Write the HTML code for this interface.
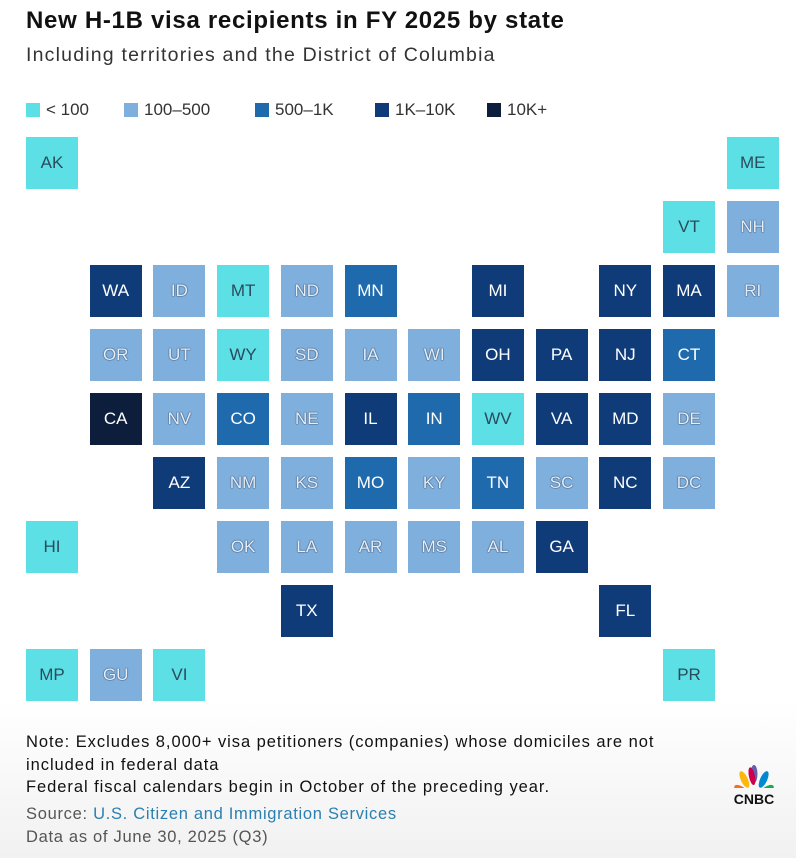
<!DOCTYPE html>
<html><head><meta charset="utf-8"><style>
body{margin:0;width:796px;height:858px;background:linear-gradient(#fff 0,#fff 700px,#f1f1f1 858px);font-family:"Liberation Sans",sans-serif;position:relative;overflow:hidden}
.t{position:absolute;white-space:nowrap}
.tile{position:absolute;width:52px;height:52px;display:flex;align-items:center;justify-content:center;font-size:17px}
.lg{position:absolute;top:100px;font-size:17px;color:#333;display:flex;align-items:center}
.lg i{display:inline-block;width:14px;height:14px;margin-right:6px}
</style></head><body>
<div class="t" style="left:26px;top:7px;font-size:24px;letter-spacing:0.7px;font-weight:bold;color:#111">New H-1B visa recipients in FY 2025 by state</div>
<div class="t" style="left:26px;top:44px;font-size:19.5px;letter-spacing:1.2px;color:#333">Including territories and the District of Columbia</div>
<div id="legend"></div>
<div id="map"></div>
<div class="t" style="left:26px;top:731px;font-size:16.5px;letter-spacing:0.95px;color:#111;line-height:22.5px">Note: Excludes 8,000+ visa petitioners (companies) whose domiciles are not<br>included in federal data<br>Federal fiscal calendars begin in October of the preceding year.</div>
<div class="t" style="left:26px;top:803px;font-size:16.5px;letter-spacing:0.7px;color:#555;line-height:23px">Source: <span style="color:#2a7fb0">U.S. Citizen and Immigration Services</span><br>Data as of June 30, 2025 (Q3)</div>
<div style="position:absolute;left:728px;top:764px;width:52px;text-align:center">
<svg width="40" height="24" viewBox="0 0 40 24"><g><ellipse cx="9" cy="15" rx="4" ry="9" fill="#f37021" transform="rotate(-55 20 22)"/><ellipse cx="14" cy="12" rx="3.5" ry="9" fill="#fcb711" transform="rotate(-25 20 22)"/><ellipse cx="20" cy="10" rx="3.5" ry="9" fill="#6460aa"/><ellipse cx="26" cy="12" rx="3.5" ry="9" fill="#0089d0" transform="rotate(25 20 22)"/><ellipse cx="31" cy="15" rx="4" ry="9" fill="#0db14b" transform="rotate(55 20 22)"/><ellipse cx="20" cy="12" rx="3" ry="9" fill="#cc004c" transform="rotate(-12 20 22)"/></g></svg>
<div style="font-weight:bold;font-size:14px;color:#111;margin-top:-2px">CNBC</div></div>
<script>
const catLabels=["< 100","100–500","500–1K","1K–10K","10K+"];
const catColors=["#5ce0e6","#7fafdc","#1f6aad","#0f3c79","#0c1e3b"];
const states=["AK","ME","VT","NH","WA","ID","MT","ND","MN","MI","NY","MA","RI","OR","UT","WY","SD","IA","WI","OH","PA","NJ","CT","CA","NV","CO","NE","IL","IN","WV","VA","MD","DE","AZ","NM","KS","MO","KY","TN","SC","NC","DC","HI","OK","LA","AR","MS","AL","GA","TX","FL","MP","GU","VI","PR"];
const cols=[0,11,10,11,1,2,3,4,5,7,9,10,11,1,2,3,4,5,6,7,8,9,10,1,2,3,4,5,6,7,8,9,10,2,3,4,5,6,7,8,9,10,0,3,4,5,6,7,8,4,9,0,1,2,10];
const rows=[0,0,1,1,2,2,2,2,2,2,2,2,2,3,3,3,3,3,3,3,3,3,3,4,4,4,4,4,4,4,4,4,4,5,5,5,5,5,5,5,5,5,6,6,6,6,6,6,6,7,7,8,8,8,8];
const cats=[0,0,0,1,3,1,0,1,2,3,3,3,1,1,1,0,1,1,1,3,3,3,2,4,1,2,1,3,2,0,3,3,1,3,1,1,2,1,2,1,3,1,0,1,1,1,1,1,3,3,3,0,1,0,0];
const legX=[26,124,255,375,487];
const lg=document.getElementById('legend');
catLabels.forEach((l,i)=>{const d=document.createElement('div');d.className='lg';d.style.left=legX[i]+'px';


d.innerHTML='<i style="background:'+catColors[i]+'"></i>'+l.replace('<','&lt;');lg.appendChild(d);});
const x=c=>26+63.7*c, y=r=>137+64*r;
const m=document.getElementById('map');
states.forEach((s,i)=>{const d=document.createElement('div');d.className='tile';


d.style.left=x(cols[i])+'px';d.style.top=y(rows[i])+'px';d.style.background=catColors[cats[i]];
if(cats[i]>=2){d.style.color='#fff';}else if(cats[i]==1){d.style.color='#e6eef8';d.style.textShadow='0 0 1.5px #2a4466,0 0 1px #2a4466';}else{d.style.color='#2b4b5c';}
d.textContent=s;m.appendChild(d);});
</script>
</body></html>
